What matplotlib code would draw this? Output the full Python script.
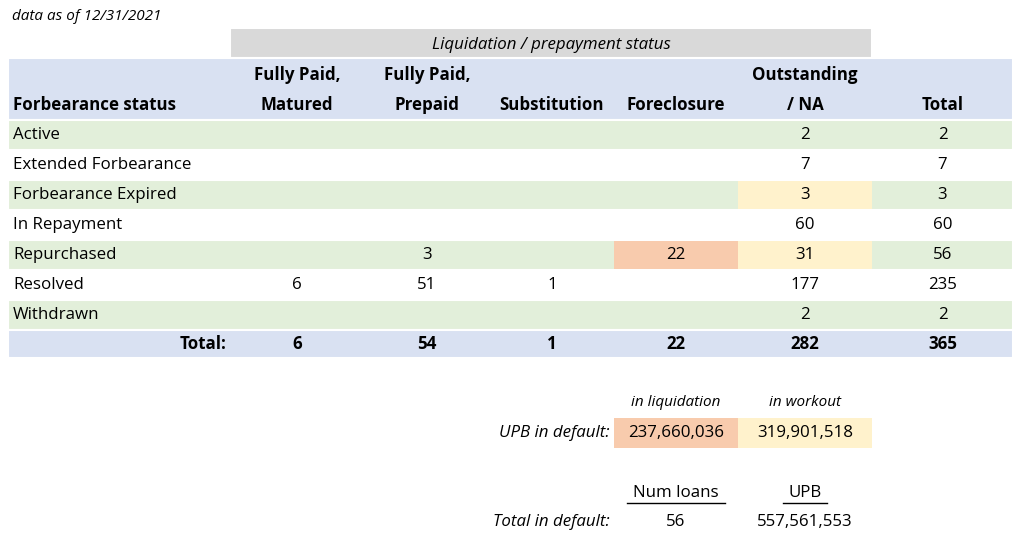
import matplotlib
matplotlib.use("Agg")
import matplotlib.pyplot as plt
from matplotlib.patches import Rectangle

plt.rcParams['font.family'] = ['Open Sans', 'DejaVu Sans']

as_of = "data as of 12/31/2021"
group_title = "Liquidation / prepayment status"
row_header = "Forbearance status"
col_headers = ["Fully Paid,\nMatured", "Fully Paid,\nPrepaid", "Substitution", "Foreclosure", "Outstanding\n/ NA", "Total"]
statuses = ["Active", "Extended Forbearance", "Forbearance Expired", "In Repayment", "Repurchased", "Resolved", "Withdrawn"]
matured = [None, None, None, None, None, 6, None]
prepaid = [None, None, None, None, 3, 51, None]
substitution = [None, None, None, None, None, 1, None]
foreclosure = [None, None, None, None, 22, None, None]
outstanding = [2, 7, 3, 60, 31, 177, 2]
totals = [2, 7, 3, 60, 56, 235, 2]
col_totals = [6, 54, 1, 22, 282, 365]
upb_labels = ["in liquidation", "in workout"]
upb_values = ["237,660,036", "319,901,518"]
num_loans = "56"
upb_total = "557,561,553"

BLUE = "#D9E1F2"; GREEN = "#E2EFDA"; GRAY = "#D9D9D9"; ORANGE = "#F8CBAD"; YELLOW = "#FFF2CC"
fs = 12.2

fig = plt.figure(figsize=(10.24, 5.47), dpi=100)
ax = fig.add_axes([0, 0, 1, 1])
ax.set_xlim(0, 1024); ax.set_ylim(547, 0); ax.axis('off')

edges = [8, 230, 364, 490, 614, 738, 872, 1013]
centers = [(edges[i] + edges[i+1]) / 2 for i in range(1, 7)]

def rect(x0, y0, x1, y1, c, lw=1.5):
    ax.add_patch(Rectangle((x0, y0), x1 - x0, y1 - y0, facecolor=c, edgecolor='white' if lw else 'none', lw=lw))

ax.text(12, 16, as_of, fontsize=11, style='italic', va='center')
rect(230, 28, 872, 58, GRAY)
ax.text((230 + 872) / 2, 45, group_title, fontsize=fs, style='italic', ha='center', va='center')
rect(8, 58, 1013, 120, BLUE)
ax.text(13, 105, row_header, fontsize=fs, weight='bold', va='center')
for c, h in zip(centers, col_headers):
    if "\n" in h:
        a, b = h.split("\n")
        ax.text(c, 75, a, fontsize=fs, weight='bold', ha='center', va='center')
        ax.text(c, 105, b, fontsize=fs, weight='bold', ha='center', va='center')
    else:
        ax.text(c, 105, h, fontsize=fs, weight='bold', ha='center', va='center')

cols = [matured, prepaid, substitution, foreclosure, outstanding, totals]
for i, s in enumerate(statuses):
    y0 = 120 + 30 * i; y1 = y0 + 30; ym = y0 + 15
    if i % 2 == 0:
        rect(8, y0, 1013, y1, GREEN)
    if s in ("Forbearance Expired", "Repurchased"):
        rect(edges[5], y0 + 0.8, edges[6], y1 - 0.8, YELLOW, lw=0)
    if s == "Repurchased":
        rect(edges[4], y0 + 0.8, edges[5], y1 - 0.8, ORANGE, lw=0)
    for j, col in enumerate(cols):
        v = col[i]
        if v is not None:
            ax.text(centers[j], ym, str(v), fontsize=fs, ha='center', va='center')
    ax.text(13, ym, s, fontsize=fs, va='center')

rect(8, 330, 1013, 358, BLUE)
ax.text(226, 344, "Total:", fontsize=fs, weight='bold', ha='right', va='center')
for c, v in zip(centers, col_totals):
    ax.text(c, 344, str(v), fontsize=fs, weight='bold', ha='center', va='center')

for c, l in zip(centers[3:5], upb_labels):
    ax.text(c, 403, l, fontsize=11, style='italic', ha='center', va='center')
ax.text(610, 433, "UPB in default:", fontsize=fs, style='italic', ha='right', va='center')
rect(614, 418, 738, 448, ORANGE, lw=0)
rect(738, 418, 872, 448, YELLOW, lw=0)
for c, v in zip(centers[3:5], upb_values):
    ax.text(c, 433, v, fontsize=fs, ha='center', va='center')

for c, l in zip(centers[3:5], ["Num loans", "UPB"]):
    ax.text(c, 493, l, fontsize=fs, ha='center', va='center')
w1 = 98; w2 = 44
ax.plot([centers[3] - w1/2, centers[3] + w1/2], [503, 503], color='black', lw=1)
ax.plot([centers[4] - w2/2, centers[4] + w2/2], [503, 503], color='black', lw=1)
ax.text(610, 522, "Total in default:", fontsize=fs, style='italic', ha='right', va='center')
ax.text(centers[3], 522, num_loans, fontsize=fs, ha='center', va='center')
ax.text(centers[4], 522, upb_total, fontsize=fs, ha='center', va='center')

fig.savefig("out.png", dpi=100)
